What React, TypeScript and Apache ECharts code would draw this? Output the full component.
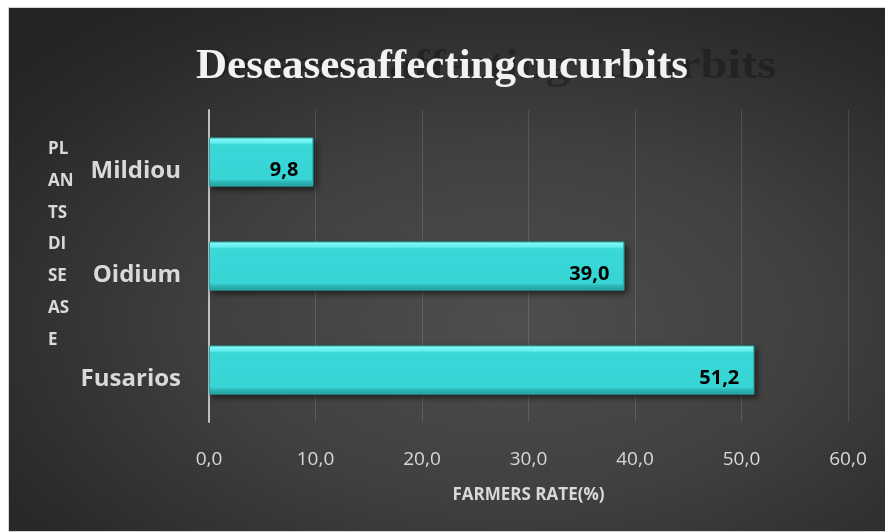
import React, { useEffect, useRef } from "react";
import * as echarts from "echarts";

const categories = ["Fusarios", "Oidium", "Mildiou"];
const farmersRate = [51.2, 39.0, 9.8];
const xMin = 0;
const xMax = 60;
const xInterval = 10;
const titleText = "Deseasesaffectingcucurbits";
const ghostTitleText = "Deseases affecting cucurbits";
const yAxisName = "PL\nAN\nTS\nDI\nSE\nAS\nE";
const xAxisName = "FARMERS RATE(%)";

const fmt = (v: number) => v.toFixed(1).replace(".", ",");

export default function App() {
  const ref = useRef<HTMLDivElement>(null);
  useEffect(() => {
    if (!ref.current) return;
    const chart = echarts.init(ref.current, undefined, { renderer: "svg" });
    const font = '"Open Sans", "DejaVu Sans", sans-serif';
    chart.setOption({
      animation: false,
      backgroundColor: "transparent",
      grid: { left: 200, right: 36, top: 102, bottom: 109, containLabel: false },
      xAxis: {
        type: "value",
        min: xMin,
        max: xMax,
        interval: xInterval,
        axisLine: { show: false },
        axisTick: { show: false },
        splitLine: { show: true, lineStyle: { color: "rgba(255,255,255,0.13)", width: 1 } },
        axisLabel: {
          color: "#d9d9d9",
          fontFamily: font,
          fontSize: 19,
          margin: 26,
          formatter: (v: number) => fmt(v),
        },
        name: xAxisName,
        nameLocation: "middle",
        nameGap: 63,
        nameTextStyle: { color: "#d9d9d9", fontFamily: font, fontSize: 17, fontWeight: "bold" },
      },
      yAxis: {
        type: "category",
        data: categories,
        axisLine: { show: true, lineStyle: { color: "#bfbfbf", width: 2 } },
        axisTick: { show: false },
        splitLine: { show: false },
        axisLabel: {
          margin: 28,
          formatter: (v: string) => `{s| }\n{a|${v}}`,
          rich: {
            s: { fontSize: 4, lineHeight: 12, height: 12 },
            a: {
              color: "#d9d9d9",
              fontFamily: font,
              fontSize: 24,
              fontWeight: "bold",
              lineHeight: 32,
            },
          },
        },
      },
      series: [
        {
          type: "bar",
          data: farmersRate,
          barWidth: 49,
          itemStyle: {
            color: {
              type: "linear",
              x: 0,
              y: 0,
              x2: 0,
              y2: 1,
              colorStops: [
                { offset: 0, color: "#8afafa" },
                { offset: 0.1, color: "#62eeee" },
                { offset: 0.14, color: "#3ad8d8" },
                { offset: 0.86, color: "#38d4d4" },
                { offset: 0.9, color: "#2fbcbc" },
                { offset: 1, color: "#279e9e" },
              ],
            },
            borderColor: "#2aa8a8",
            borderWidth: 1,
            shadowColor: "rgba(0,0,0,0.6)",
            shadowBlur: 6,
            shadowOffsetX: 3,
            shadowOffsetY: 3,
          },
          label: {
            show: true,
            position: "insideRight",
            distance: 15,
            offset: [0, 6],
            color: "#000",
            fontFamily: font,
            fontSize: 20,
            fontWeight: "bold",
            formatter: (p: any) => fmt(p.value),
          },
        },
      ],
      graphic: [
        {
          type: "text",
          x: 187,
          y: 55,
          scaleX: 1.13,
          z: 1,
          silent: true,
          style: {
            x: 0,
            y: 0,
            text: ghostTitleText,
            font: 'bold 43px "Liberation Serif", "DejaVu Serif", serif',
            fill: "rgba(0,0,0,0.28)",
            verticalAlign: "middle",
            shadowColor: "rgba(0,0,0,0.45)",
            shadowBlur: 6,
          },
        },
        {
          type: "text",
          x: 187,
          y: 55,
          z: 2,
          silent: true,
          style: {
            x: 0,
            y: 0,
            text: titleText,
            font: 'bold 43px "Liberation Serif", "DejaVu Serif", serif',
            fill: "#f2f2f2",
            verticalAlign: "middle",
            shadowColor: "rgba(0,0,0,0.6)",
            shadowBlur: 3,
            shadowOffsetX: 2,
            shadowOffsetY: 2,
          },
        },
        {
          type: "text",
          x: 39,
          y: 124,
          silent: true,
          style: {
            text: yAxisName,
            font: 'bold 17px "Open Sans", sans-serif',
            fill: "#d9d9d9",
            lineHeight: 31.7,
            verticalAlign: "top",
          },
        },
      ],
    });
    return () => chart.dispose();
  }, []);
  return (
    <div
      style={{
        position: "fixed",
        left: 8,
        top: 7,
        width: 885,
        height: 525,
        boxSizing: "border-box",
        border: "1px solid #d4d4d4",
        background:
          "radial-gradient(ellipse 75% 75% at 57% 60%, #4e4e4e 0%, #404040 45%, #2a2a2a 85%, #242424 100%)",
      }}
    >
      <div ref={ref} style={{ width: 875, height: 523 }} />
    </div>
  );
}
